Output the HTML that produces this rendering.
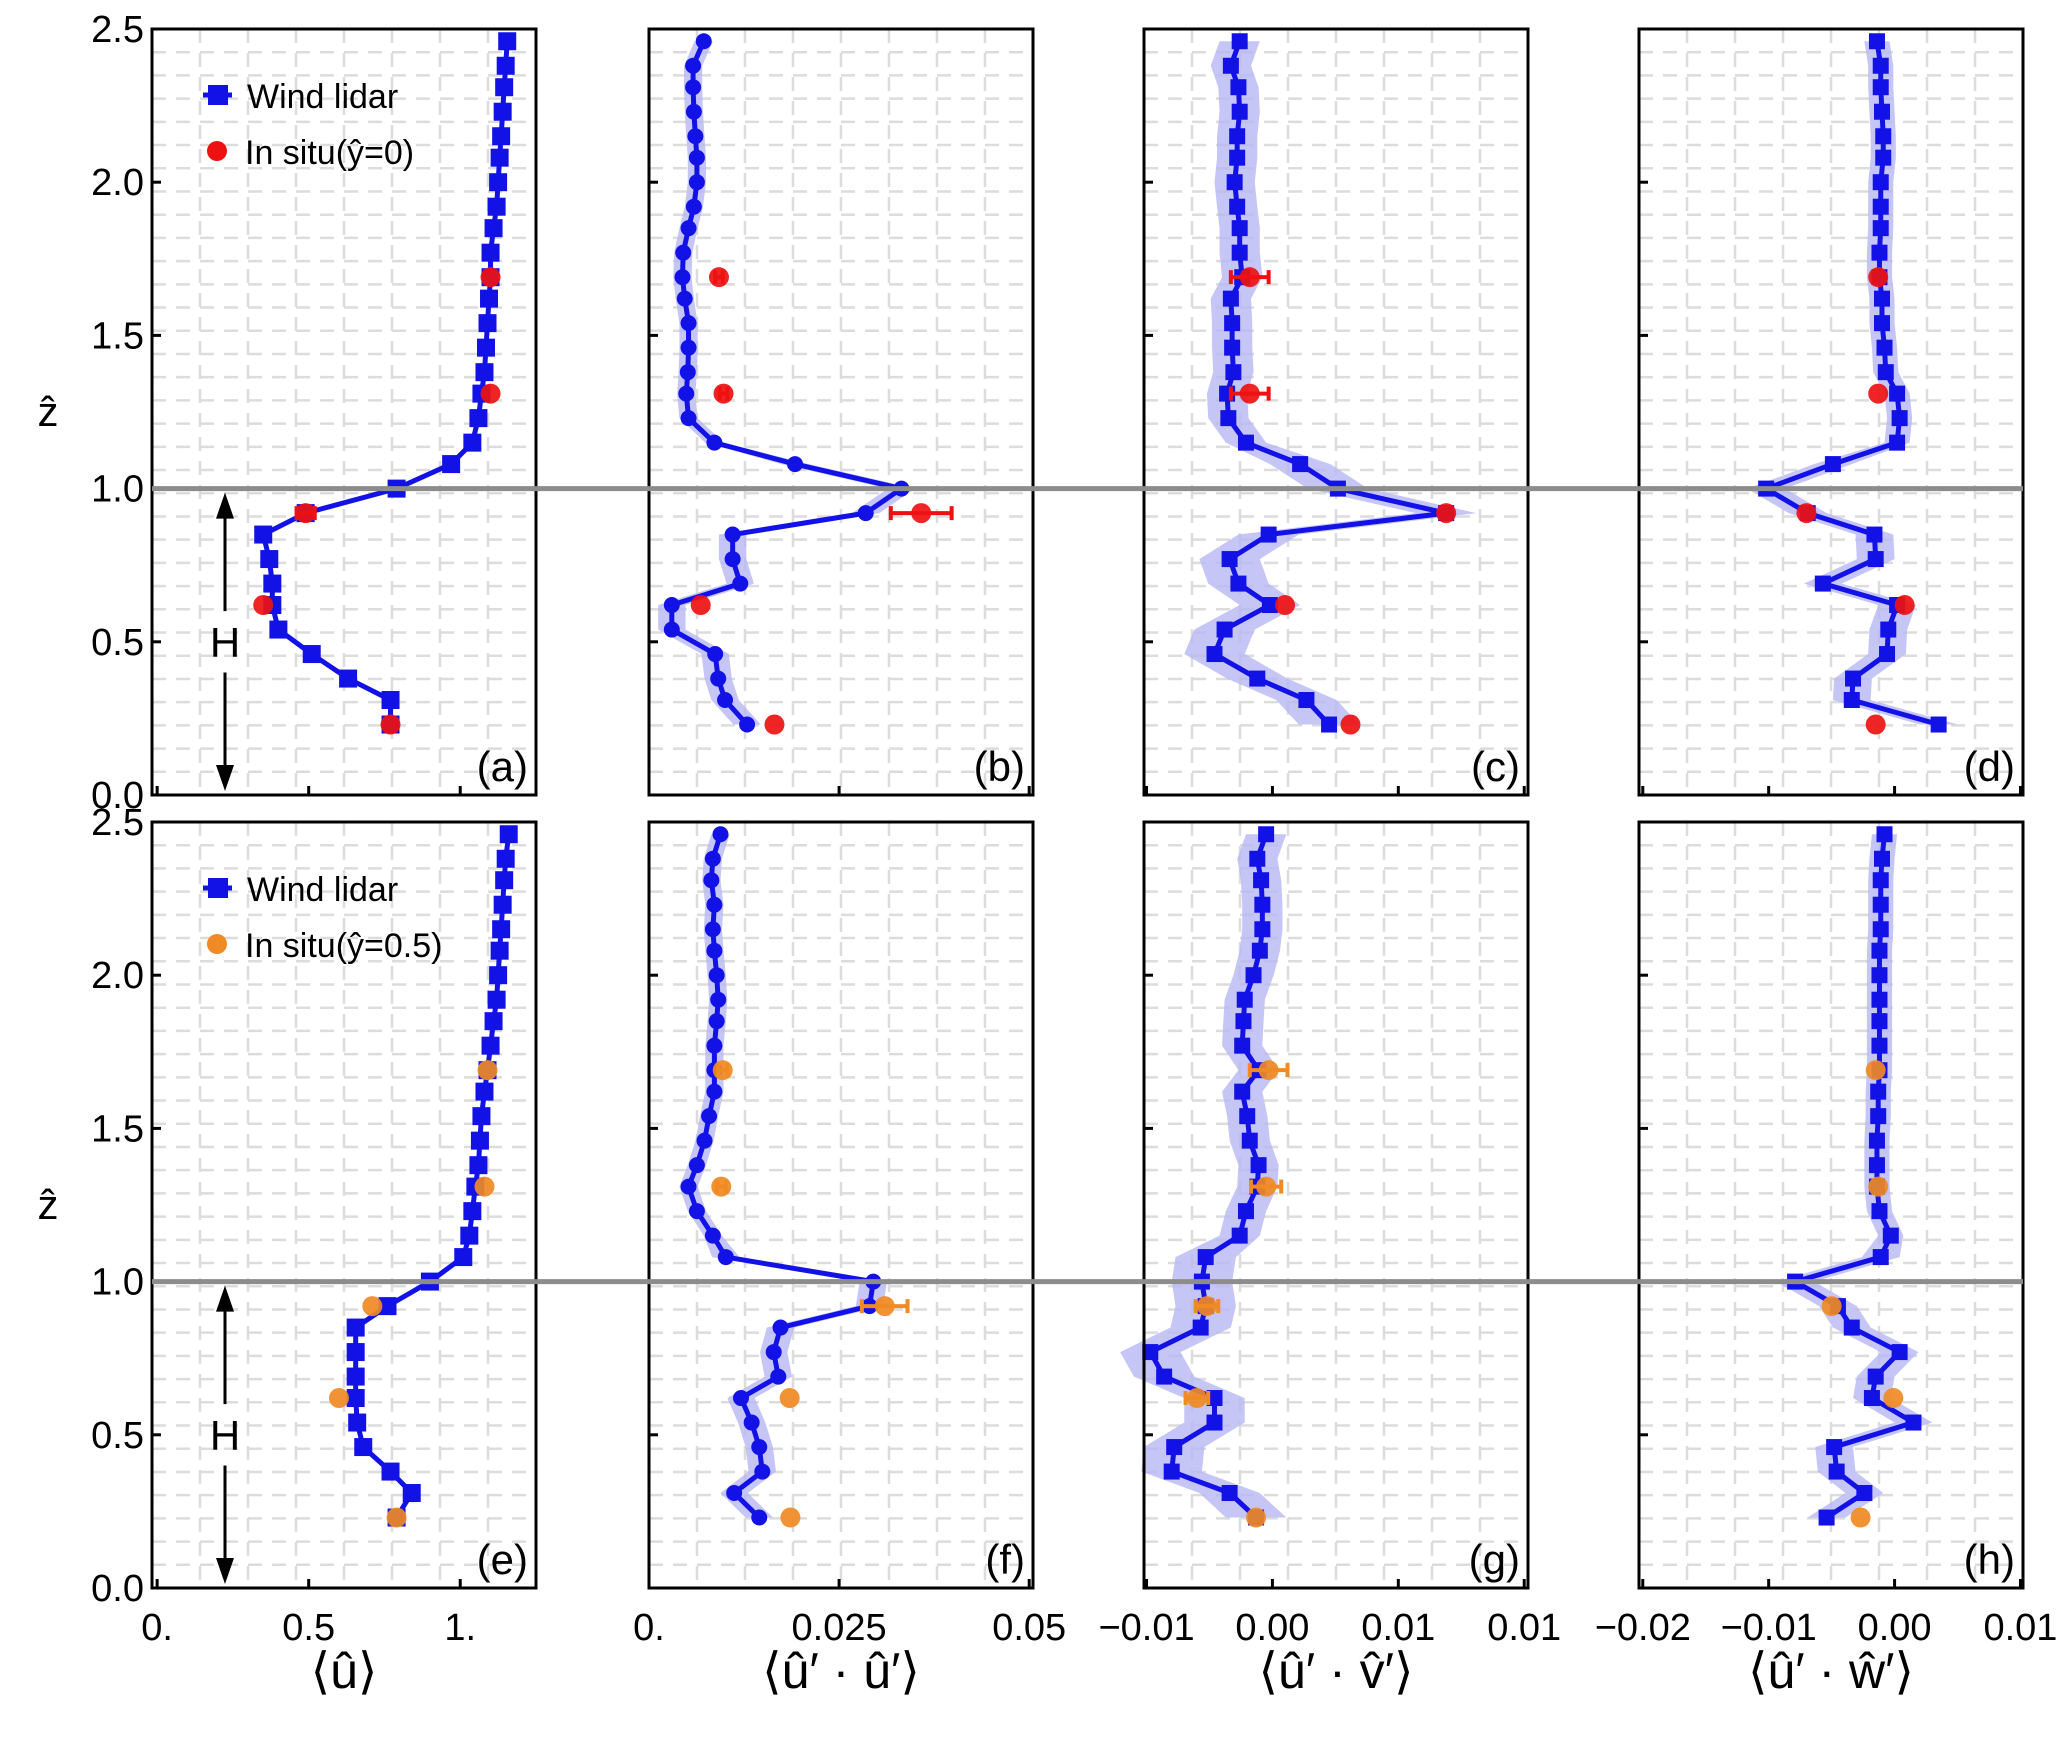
<!DOCTYPE html>
<html><head><meta charset="utf-8"><style>
html,body{margin:0;padding:0;background:#fff;}
svg{display:block;}
text{font-family:"Liberation Sans Narrow","Liberation Sans",sans-serif;fill:#000;}
</style></head><body>
<svg id="fig" width="2067" height="1738" viewBox="0 0 2067 1738" xmlns="http://www.w3.org/2000/svg"></svg>
<script>
// ---------- data ----------
const heights = [0.23,0.31,0.38,0.46,0.54,0.62,0.69,0.77,0.85,0.92,1.00,1.08,1.15,1.23,1.31,1.38,1.46,1.54,1.62,1.69,1.77,1.85,1.92,2.00,2.08,2.15,2.23,2.31,2.38,2.46];
const insituHeights = [0.23,0.62,0.92,1.31,1.69];

const uTop = [0.77,0.77,0.63,0.51,0.40,0.38,0.38,0.37,0.35,0.49,0.79,0.97,1.04,1.06,1.07,1.08,1.085,1.09,1.095,1.10,1.10,1.11,1.12,1.125,1.13,1.135,1.14,1.145,1.15,1.155];
const uBot = [0.79,0.84,0.77,0.68,0.66,0.655,0.655,0.655,0.655,0.76,0.90,1.01,1.03,1.04,1.05,1.06,1.065,1.07,1.08,1.09,1.10,1.11,1.12,1.125,1.13,1.135,1.14,1.145,1.15,1.16];
const uuTop = [0.0129,0.0100,0.0091,0.0087,0.0030,0.0030,0.0120,0.0110,0.0110,0.0285,0.0332,0.0192,0.0086,0.0052,0.0049,0.0051,0.0052,0.0052,0.0047,0.0044,0.0045,0.0052,0.0059,0.0063,0.0063,0.0061,0.0059,0.0058,0.0058,0.0072];
const uuBot = [0.0145,0.0112,0.0149,0.0145,0.0135,0.0121,0.0170,0.0164,0.0173,0.0290,0.0295,0.0101,0.0084,0.0063,0.0052,0.0063,0.0073,0.0079,0.0086,0.0086,0.0086,0.0089,0.0091,0.0089,0.0086,0.0084,0.0086,0.0082,0.0084,0.0094];
const uvTop = [0.0045,0.0027,-0.0012,-0.0046,-0.0038,-0.0002,-0.0027,-0.0034,-0.0003,0.0138,0.0052,0.0022,-0.0021,-0.0035,-0.0036,-0.0031,-0.0032,-0.0032,-0.0033,-0.0024,-0.0026,-0.0026,-0.0028,-0.0030,-0.0028,-0.0028,-0.0026,-0.0027,-0.0033,-0.0026];
const uvBot = [-0.0013,-0.0034,-0.0080,-0.0078,-0.0046,-0.0046,-0.0086,-0.0097,-0.0057,-0.0053,-0.0056,-0.0053,-0.0026,-0.0021,-0.0012,-0.0011,-0.0018,-0.0020,-0.0024,-0.0011,-0.0024,-0.0023,-0.0022,-0.0015,-0.0010,-0.0008,-0.0008,-0.0009,-0.0012,-0.0005];
const uwTop = [0.0035,-0.0034,-0.0033,-0.0006,-0.0005,0.0002,-0.0057,-0.0015,-0.0016,-0.0069,-0.0102,-0.0049,0.0002,0.0004,0.0002,-0.0007,-0.0008,-0.0010,-0.0010,-0.0012,-0.0012,-0.0011,-0.0011,-0.0011,-0.0009,-0.0009,-0.0010,-0.0011,-0.0011,-0.0014];
const uwBot = [-0.0054,-0.0024,-0.0046,-0.0048,0.0015,-0.0018,-0.0015,0.0004,-0.0034,-0.0045,-0.0079,-0.0011,-0.0003,-0.0012,-0.0014,-0.0014,-0.0014,-0.0013,-0.0013,-0.0012,-0.0012,-0.0012,-0.0012,-0.0012,-0.0012,-0.0011,-0.0011,-0.0011,-0.0010,-0.0008];

const insituUTop = [0.77,0.35,0.49,1.10,1.10];
const insituUBot = [0.79,0.60,0.71,1.08,1.09];
const insituUUTop = [0.0165,0.0068,0.0358,0.0098,0.0092];
const insituUUBot = [0.0186,0.0185,0.0310,0.0095,0.0097];
const insituUVTop = [0.0062,0.0010,0.0138,-0.0018,-0.0018];
const insituUVBot = [-0.0013,-0.0060,-0.0052,-0.0005,-0.0003];
const insituUWTop = [-0.0015,0.0008,-0.0070,-0.0013,-0.0013];
const insituUWBot = [-0.0027,-0.0001,-0.0050,-0.0013,-0.0015];

const xTickVals = [[0,0.5,1.0],[0,0.025,0.05],[-0.01,0,0.01,0.02],[-0.02,-0.01,0,0.01]];
const xTickLabels = [["0.","0.5","1."],["0.","0.025","0.05"],["\u22120.01","0.00","0.01","0.01"],["\u22120.02","\u22120.01","0.00","0.01"]];
const yTickVals = [0,0.5,1.0,1.5,2.0,2.5];
const yTickLabels = ["0.0","0.5","1.0","1.5","2.0","2.5"];
const xLabels = ["\u27E8\u00FB\u27E9","\u27E8\u00FB\u2032 \u00B7 \u00FB\u2032\u27E9","\u27E8\u00FB\u2032 \u00B7 v\u0302\u2032\u27E9","\u27E8\u00FB\u2032 \u00B7 \u0175\u2032\u27E9"];
const bandHalf = [0, 0.0012, 0.0016, 0.0010];

// ---------- layout ----------
const svg = document.getElementById('fig');
const NS = 'http://www.w3.org/2000/svg';
const colX = [152,649,1144,1639], PW = 384;
const rowY = [29,822], PH = 766;
const xDom = [[-0.017,1.25],[0,0.0505],[-0.0102,0.0203],[-0.0203,0.0102]];
const BLUE = '#1212e6';
function mk(tag, attrs, parent){const e=document.createElementNS(NS,tag);for(const k in attrs)e.setAttribute(k,attrs[k]);(parent||svg).appendChild(e);return e;}
function xs(c,v){return colX[c]+(v-xDom[c][0])/(xDom[c][1]-xDom[c][0])*PW;}
function ys(r,z){return rowY[r]+PH-(z/2.5)*PH;}

const series = [[uTop,uuTop,uvTop,uwTop],[uBot,uuBot,uvBot,uwBot]];
const insitu = [[insituUTop,insituUUTop,insituUVTop,insituUWTop],[insituUBot,insituUUBot,insituUVBot,insituUWBot]];
const insituErr = [[[0,0,0.03,0,0],[0,0,0.004,0.0005,0.0005],[0,0,0,0.0015,0.0015],[0,0,0,0,0]],[[0,0,0,0,0],[0,0,0.003,0.0006,0.0006],[0,0.0009,0.0009,0.0012,0.0015],[0,0,0,0,0]]];
const panelNames = [['a','b','c','d'],['e','f','g','h']];
const insituColor = ['#ee1111','#f08a24'];

for(let r=0;r<2;r++){
  for(let c=0;c<4;c++){
    const g = mk('g',{});
    
    
    const x0=colX[c], y0=rowY[r];
    const grid = mk('g',{stroke:'#dcdcdc','stroke-width':2.5,'stroke-dasharray':'14 10',fill:'none'},g);
    
    
    for(let i=1;i<8;i++) mk('line',{x1:x0+i*PW/8,y1:y0,x2:x0+i*PW/8,y2:y0+PH},grid);
    for(let i=1;i<33;i++) mk('line',{x1:x0,y1:y0+i*PH/33,x2:x0+PW,y2:y0+i*PH/33},grid);
    const d = series[r][c];
    if(bandHalf[c]>0){
      let pts=[];
      for(let i=0;i<d.length;i++) pts.push(xs(c,d[i]-bandHalf[c]*(i<12?1.5:1))+','+ys(r,heights[i]));
      for(let i=d.length-1;i>=0;i--) pts.push(xs(c,d[i]+bandHalf[c]*(i<12?1.5:1))+','+ys(r,heights[i]));
      const band = mk('polygon',{points:pts.join(' '),fill:'#b8b8f4','fill-opacity':0.8},g);
      
      
    }
    const line = mk('polyline',{points:d.map((v,i)=>xs(c,v)+','+ys(r,heights[i])).join(' '),fill:'none',stroke:BLUE,'stroke-width':5,'stroke-linejoin':'round'},g);
    
    
    for(let i=0;i<d.length;i++){
      const cx=xs(c,d[i]), cy=ys(r,heights[i]);
      let m;
      if(c===1){ m = mk('circle',{cx:cx,cy:cy,r:8,fill:BLUE},g); }
      else { const s = c===0?18:16; m = mk('rect',{x:cx-s/2,y:cy-s/2,width:s,height:s,fill:BLUE},g); }
      
      
    }
    const ins = insitu[r][c];
    for(let i=0;i<ins.length;i++){
      const cx=xs(c,ins[i]), cy=ys(r,insituHeights[i]);
      const e = insituErr[r][c][i];
      if(e>0){
        const eb = mk('path',{d:`M${xs(c,ins[i]-e)},${cy}H${xs(c,ins[i]+e)}M${xs(c,ins[i]-e)},${cy-7}V${cy+7}M${xs(c,ins[i]+e)},${cy-7}V${cy+7}`,stroke:insituColor[r],'stroke-width':4,fill:'none'},g);
        
        
      }
      const m = mk('circle',{cx:cx,cy:cy,r:10,fill:insituColor[r],'fill-opacity':0.92},g);
      
      
    }
    for(const v of yTickVals){
      const t = mk('line',{x1:x0,y1:ys(r,v),x2:x0+9,y2:ys(r,v),stroke:'#000','stroke-width':3},g);
      
      
      if(c===0){
        const tl = mk('text',{x:x0-8,y:ys(r,v)+13,'font-size':38,'text-anchor':'end'},g);
        tl.textContent = yTickLabels[yTickVals.indexOf(v)];
        
        
      }
    }
    xTickVals[c].forEach((v,j)=>{
      const t = mk('line',{x1:xs(c,v),y1:y0+PH,x2:xs(c,v),y2:y0+PH-9,stroke:'#000','stroke-width':3},g);
      
      
      if(r===1){
        const tl = mk('text',{x:xs(c,v),y:y0+PH+52,'font-size':38,'text-anchor':'middle'},g);
        tl.textContent = xTickLabels[c][j];
        
        
      }
    });
    const fr = mk('rect',{x:x0,y:y0,width:PW,height:PH,fill:'none',stroke:'#000','stroke-width':3},g);
    
    
    const pl = mk('text',{x:x0+PW-8,y:y0+PH-14,'font-size':42,'text-anchor':'end'},g);
    pl.textContent = '('+panelNames[r][c]+')';
    
    
  }
  const hl = mk('line',{x1:colX[0],y1:ys(r,1),x2:colX[3]+PW,y2:ys(r,1),stroke:'#8c8c8c','stroke-width':5});
  
  
  const ax = 225;
  const arr = mk('g',{});
  
  
  mk('line',{x1:ax,y1:ys(r,1)+22,x2:ax,y2:ys(r,0.6),stroke:'#000','stroke-width':3},arr);
  mk('line',{x1:ax,y1:ys(r,0.4),x2:ax,y2:ys(r,0)-22,stroke:'#000','stroke-width':3},arr);
  mk('polygon',{points:`${ax},${ys(r,1)+4} ${ax-9},${ys(r,1)+30} ${ax+9},${ys(r,1)+30}`,fill:'#000'},arr);
  mk('polygon',{points:`${ax},${ys(r,0)-4} ${ax-9},${ys(r,0)-30} ${ax+9},${ys(r,0)-30}`,fill:'#000'},arr);
  const ht = mk('text',{x:ax,y:ys(r,0.5)+15,'font-size':42,'text-anchor':'middle'},arr);
  ht.textContent='H';
  const yl = mk('text',{x:48,y:ys(r,1.25)+14,'font-size':42,'text-anchor':'middle'});
  yl.textContent='\u1E91';
  
  
  const lg = mk('g',{});
  
  
  const ly = rowY[r];
  mk('line',{x1:203,y1:ly+66,x2:232,y2:ly+66,stroke:BLUE,'stroke-width':5},lg);
  mk('rect',{x:208,y:ly+56,width:20,height:20,fill:BLUE},lg);
  const t1 = mk('text',{x:247,y:ly+79,'font-size':34},lg);
  t1.textContent='Wind lidar';
  mk('circle',{cx:217,cy:ly+122,r:10,fill:insituColor[r]},lg);
  const t2 = mk('text',{x:245,y:ly+135,'font-size':34},lg);
  t2.textContent = r===0 ? 'In situ(\u0177=0)' : 'In situ(\u0177=0.5)';
}
for(let c=0;c<4;c++){
  const t = mk('text',{x:colX[c]+PW/2,y:1688,'font-size':50,'text-anchor':'middle'});
  t.textContent = xLabels[c];
  
  
}
</script>
</body></html>
